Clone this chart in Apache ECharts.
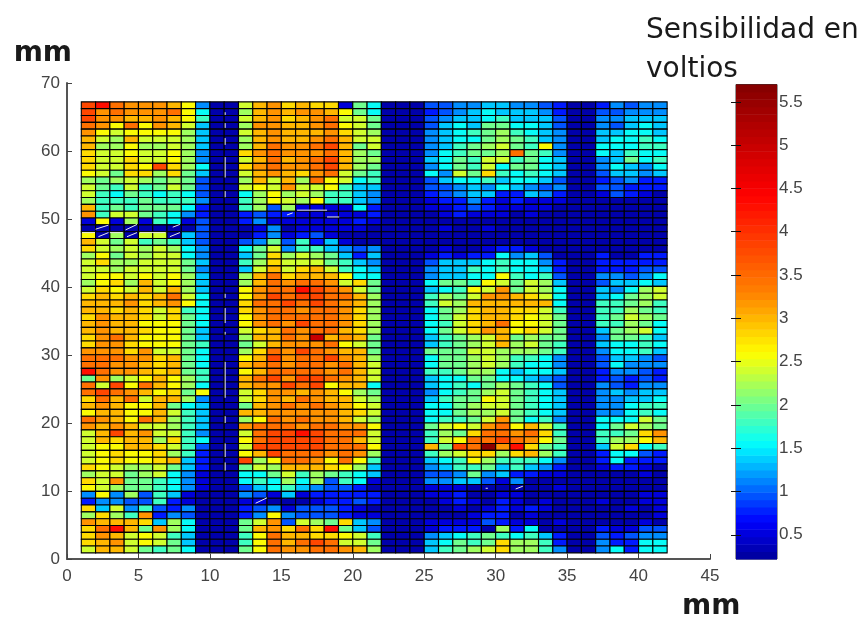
<!DOCTYPE html>
<html><head><meta charset="utf-8">
<style>html,body{margin:0;padding:0;background:#fff}#c{width:867px;height:619px}</style>
<script src="https://cdn.jsdelivr.net/npm/echarts@6/dist/echarts.min.js"></script>
</head><body><div id="c"></div>
<script>
// Value read for each colour code (volts)
const CODES = 'abcdefghijklmnopqrst'.split('');
const CODE_VOLTS = [0.3,0.5,0.75,0.95,1.15,1.35,1.57,1.8,2.0,2.2,2.4,2.6,2.8,3.0,3.2,3.45,3.8,4.3,5.0,5.6];
// Colorbar reference stops
const STOP_VOLTS = [0.22,0.7,1.13,1.57,2.08,2.6,3.3,4.4,5.7];
const STOP_RGB = [[0,0,143],[0,0,255],[0,127,255],[0,255,255],[127,255,127],[255,255,0],[255,128,0],[255,0,0],[127,0,0]];
const X_TICKS_MAX = 45, Y_TICKS_MAX = 70;
const BAR_TICKS = [0.5,1,1.5,2,2.5,3,3.5,4,4.5,5,5.5];
// Rows top to bottom, 41 columns, column x = 1..41
const rows = [
"qrpooonle aa knomnmmbig aaa ddeeffeedc aa cedee",
"qopoooplg aa jnonoonlig aaa cdefgfffec aa ddeee",
"qoonnonlh aa knomnopkki aaa deffghfffd aa eefff",
"polplonkf aa joonnoplki aaa dfgfiiggfd aa edfgf",
"olklllljf aa knonnnomkj aaa efghijhgfe aa ffggf",
"nkjnkkkjf aa jnonnopnkk aaa efggijihfe aa fgghg",
"njjljjkjf aa jnpoopqnik aaa efhijkihle aa ggghh",
"mkklkklje aa mopooopnji aaa eghiijpihe aa gfhgg",
"mkkmkklje aa knpnopqnjj aaa fgihkkhigf aa efigh",
"mkkmlqmjg aa mopoopqnji aaa egihkgiigf aa egfeg",
"lkimmjmif aa knonmopkih aaa gekimhghgf aa dffef",
"jijkjijid aa jnknjplkgh aaa dfgghfggfd aa cdecc",
"kihkhikid aa klkokklhff aaa ddefegfede aa ddccc",
"khgihghgd aa gjljkjhhfe aaa cdeffccfec aa bdcba",
"jhhhihhhe aa hjlkjlhhfe aaa bccecbcbbb aa aaaaa",
"nhihiiigc aa hjdjbbbbgc aaa bbcdcbbbba aa aaaaa",
"ohkkihgec aa cdccbbbbbc aaa abcbbbabaa aa aaaaa",
"blbjbhgbd aa cebbbbbbcb aaa aaaaaaaaaa aa aaaaa",
"aaaaaaaad aa abeabbbbba aaa abaabaaaaa aa aaaaa",
"lajakkafd aa acebcdbaaa aaa aaaaaaaaaa aa aaaaa",
"nkikhihfd aa deidhcfbaa aaa aaaaaaaaaa aa aaaaa",
"mkjkjkjge aa gikehhfede aaa abaabccbaa aa aaaaa",
"jlikjkkge aa fimjkjifcf aaa bcbccgefda aa caacc",
"kmjjkkkif aa hjmkkkihfe aaa dfffghggec aa ccccc",
"kkjkkkkie aa fknkmnkhgf aaa effhghggfc aa cccdd",
"kllklkljf aa jnpmnnnlgg aaa effgglhghd aa eedeg",
"jlmjnkljf aa jnpoppokmi aaa giihlkikjf aa dffgf",
"kmlknknjf aa lopprqpoki aaa fghlkoikjg aa fegjk",
"mnmnmnpkg aa loqpqqppnj aaa hjikoonmkg aa fgijk",
"nnnomnolg aa mppqpqponj aaa hkjnnnnnng aa hhijh",
"nnmnmkmhg aa moppoppomj aaa gijmnnmmkh aa hhjih",
"monnmkmig aa lopppppomj aaa gikmnnmlki aa hikji",
"nonnlllig aa lopoqppomj aaa ghkmnpllki aa hhjig",
"nonnmllif aa kmnpoppnmj aaa gikmonlmki aa fijkg",
"mopnlllif aa jnnposnoni aaa fhijknijii aa eiihf",
"moomlllih aa iknoooplki aaa fhijknjkih aa fgghg",
"ooomokkig aa jmpoqponni aaa iiikkjjjih aa egghf",
"pppoomnig aa lnqoppqonj aaa giijkjhhge aa dffed",
"ppoonmnig aa nopoppopnk aaa giijkjhgge aa dgeee",
"rpoonmnih aa lnppppopnk aaa hhijjgfggf aa ceedc",
"iojklnljh aa npqoqqponk aaa fggiiggfed aa cdcdc",
"pkqlpnljg aa nooqpqlnng aaa fghgijihgd aa edcee",
"pqponlmil aa kmoononlji aaa eghijkihgf aa efeff",
"mpnpknnje aa kmonponnkj aaa fhiilkihgf aa eeffg",
"nonllnigf aa inopoponlk aaa ggijkkihgf aa eeghh",
"lnnllnkhf aa nnooooonmk aaa ggijjkihgf aa eeghg",
"ponlpnjhf aa jlpopoonkj aaa ghhikoighe aa gggki",
"ononkkjhf aa opppoppool aaa iklkoplnkh aa gikji",
"knqnokkhe aa kpqqrqpppk aaa hjimppopmh aa hhimo",
"knmnnjmhg aa lpqqqqppnk aaa hklppqpoli aa hjjln",
"kllnnmkhd aa kqqqqqpppl aaa niqptormih aa fkmgh",
"klmllmjhc aa lnqpppopoj aaa hjkmmjmnjh aa cggdc",
"klmllmnfc aa qjlppolplh aaa fghljhhhge aa cgccc",
"mlkjjkifc aa ikjnnnmljf aaa efhhifhfec aa bccba",
"jkkijkgeb aa ggikhjihgf aaa ddeiefccbb aa aaaba",
"mkoiihgeb aa ghgjgjdhgb aaa eeffdbeaaa aa aaaaa",
"lkjiihgeb aa dfghfeddca aaa bbbaaaaaab aa aaaaa",
"elejdhfba aa edbfbccccc aaa bbcaabbaaa aa aaabb",
"ceeddhcba aa bbaaabccdc aaa abcbacbaba aa baabb",
"mfkehdcea aa cdebdddcba aaa aababcbcba aa aabab",
"jmjhoceda aa celedddcbb aaa aaabccabaa aa aaaab",
"onnnmfjga aa ikodkjimfe aaa bbbbdcbbab aa aaaba",
"mprniojga aa inompmrifd aaa bcccajcgaa aa cbbdd",
"monklkhfa aa hlpnnmmlkh aaa efghihghfc aa dcdee",
"mnoklkifa aa hlpnpqpkki aaa fgihimjjhc aa eccgg",
"knnkihiga aa ilpoopponj aaa fhijkmjjhe aa egcgg"
];
// White scan artefacts in the picture, [x1,y1,x2,y2] in axis units
const artefacts = [
[11.07,65.7,11.07,65.3],[11.07,64.1,11.07,63.4],[11.07,61.9,11.07,60.9],[11.07,59.1,11.07,56.1],[11.07,54.1,11.07,53.2],
[11.07,39,11.07,38.4],[11.07,36.9,11.07,34.7],[11.07,33.4,11.07,33.0],[11.07,29,11.07,23.7],[11.07,21,11.07,20.0],
[11.07,17,11.07,15],[11.07,14.2,11.07,13],
[16.1,51.3,18.2,51.3],[18.2,50.3,19.05,50.3],[1.05,48,1.96,48],[3.0,48,3.9,48],[5.1,48,6.9,48],
[2,48.5,2.9,49.1],[4.1,48.4,4.9,49.2],[4.2,47.4,4.9,48],[2.2,47.4,2.9,48],[7.2,47.4,7.9,48],[7.4,48.8,7.9,49.2],
[15.4,50.6,15.8,50.9],[13.2,8.2,14,9],[31.4,10.3,31.9,10.7],[29.3,10.4,29.45,10.4]
];
const TEXT_TITLE = 'Sensibilidad en\nvoltios';
const AXIS_NAME = 'mm';

const V_MIN = STOP_VOLTS[0], V_MAX = STOP_VOLTS[STOP_VOLTS.length-1], LEVELS = 64;
function rgbAt(v){
  let i = 0;
  while (i < STOP_VOLTS.length-2 && v > STOP_VOLTS[i+1]) i++;
  const t = Math.max(0,Math.min(1,(v-STOP_VOLTS[i])/(STOP_VOLTS[i+1]-STOP_VOLTS[i])));
  const c = STOP_RGB[i].map((a,k)=>Math.round(a+(STOP_RGB[i+1][k]-a)*t));
  return 'rgb('+c.join(',')+')';
}
const palette = [], barData = [];
const STEP = (V_MAX-V_MIN)/LEVELS;
for (let i=0;i<LEVELS;i++){ const mid=V_MIN+STEP*(i+.5); palette.push(rgbAt(mid)); barData.push([0,V_MIN+STEP*i,mid]); }

const Y_BASE = 0.9, CELL_H = 1.005;
const cells = [];
rows.forEach((r,ri)=>{
  const s = r.replace(/ /g,'');
  for (let c=0;c<s.length;c++){
    cells.push([c+1, Y_BASE+(rows.length-1-ri)*CELL_H, CODE_VOLTS[CODES.indexOf(s[c])]]);
  }
});
const artefactLine = [];
artefacts.forEach(a=>{artefactLine.push([a[0],a[1]],[a[2],a[3]],[null,null]);});

const LABEL = {color:'#444',fontFamily:'"Liberation Sans",Arial,sans-serif',fontSize:17};
const NAME = {color:'#1a1a1a',fontFamily:'"DejaVu Sans",sans-serif',fontSize:28,fontWeight:'bold'};
const LINE = {show:true,lineStyle:{color:'#555',width:2}};
const chart = echarts.init(document.getElementById('c'),null,{renderer:'canvas'});
chart.setOption({
  animation:false,
  backgroundColor:'#fff',
  title:{text:TEXT_TITLE,left:641,top:6,textStyle:{color:'#1a1a1a',fontFamily:'"DejaVu Sans",sans-serif',fontSize:28,fontWeight:'normal',lineHeight:39}},
  grid:[{left:67,top:83,width:643,height:476,outerBoundsMode:'none'},{left:736,top:84.5,width:41,height:474.5,show:true,borderColor:'#333',borderWidth:1,outerBoundsMode:'none'}],
  xAxis:[
    {type:'value',gridIndex:0,min:0,max:X_TICKS_MAX,interval:5,splitLine:{show:false},axisLine:LINE,
     axisTick:{inside:true,length:5,lineStyle:{color:'#444'}},axisLabel:Object.assign({margin:9},LABEL),
     name:AXIS_NAME,nameLocation:'end',nameGap:-28,nameTextStyle:Object.assign({verticalAlign:'top',padding:[34,0,0,0]},NAME)},
    {type:'value',gridIndex:1,min:0,max:1,show:false}
  ],
  yAxis:[
    {type:'value',gridIndex:0,min:0,max:Y_TICKS_MAX,interval:10,splitLine:{show:false},axisLine:LINE,
     axisTick:{inside:true,length:5,lineStyle:{color:'#444'}},axisLabel:Object.assign({margin:7},LABEL),
     name:AXIS_NAME,nameLocation:'end',nameGap:15,nameTextStyle:Object.assign({align:'right',padding:[0,-5,0,0]},NAME)},
    {type:'value',gridIndex:1,position:'right',z:6,min:V_MIN,max:V_MAX,splitLine:{show:false},axisLine:{show:false},
     axisTick:{inside:true,length:5,customValues:BAR_TICKS,lineStyle:{color:'#111'}},
     axisLabel:Object.assign({margin:2,customValues:BAR_TICKS},LABEL)},
    {type:'value',gridIndex:1,position:'left',z:6,min:V_MIN,max:V_MAX,splitLine:{show:false},axisLine:{show:false},
     axisTick:{inside:true,length:5,customValues:BAR_TICKS,lineStyle:{color:'#111'}},axisLabel:{show:false}}
  ],
  visualMap:{type:'continuous',show:false,min:V_MIN,max:V_MAX,dimension:2,seriesIndex:[0,2],inRange:{color:palette}},
  series:[
    {type:'custom',xAxisIndex:0,yAxisIndex:0,data:cells,encode:{x:0,y:1},silent:true,
     renderItem(p,api){
       const x=api.value(0),y=api.value(1);
       const a=api.coord([x,y+CELL_H]),b=api.coord([x+1,y]);
       return {type:'rect',shape:{x:a[0],y:a[1],width:b[0]-a[0],height:b[1]-a[1]},style:{fill:api.visual('color'),stroke:'#000',lineWidth:1.1}};
     }},
    {type:'line',xAxisIndex:0,yAxisIndex:0,data:artefactLine,showSymbol:false,connectNulls:false,silent:true,z:5,lineStyle:{color:'#e8e8e8',width:1}},
    {type:'custom',xAxisIndex:1,yAxisIndex:1,data:barData,encode:{x:0,y:1},silent:true,z:1,
     renderItem(p,api){
       const y=api.value(1);
       const a=api.coord([0,y+STEP]),b=api.coord([1,y]);
       return {type:'rect',shape:{x:a[0],y:a[1],width:b[0]-a[0],height:b[1]-a[1]+0.5},style:{fill:api.visual('color')}};
     }}
  ]
});
</script></body></html>
